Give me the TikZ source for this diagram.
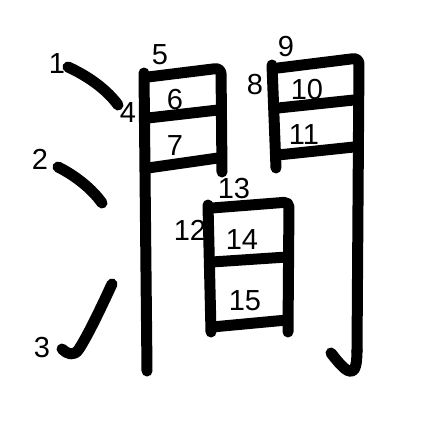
\documentclass[tikz,border=0pt]{standalone}
\usepackage{fontspec}
\setmainfont{Liberation Sans}
\begin{document}
\begin{tikzpicture}[x=1pt,y=-1pt,
  kstroke/.style={line width=11pt,line cap=round,line join=round,black},
  num/.style={font=\fontsize{29}{29}\selectfont,inner sep=0pt,black}]
\useasboundingbox (0,0) rectangle (447,447);
% strokes
\draw[kstroke] (68,67) .. controls (90,77) and (108,91) .. (118,105);
\draw[kstroke] (58,167) .. controls (76,176) and (92,189) .. (102,203);
\draw[kstroke] (112,284) .. controls (100,310) and (88,335) .. (79,349) .. controls (74,357) and (67,354) .. (62,349);
\draw[kstroke] (144,73) -- (147,371);
\draw[kstroke,rounded corners=6pt] (148,77) -- (221,68) -- (222,172);
\draw[kstroke] (148,118) -- (218,110);
\draw[kstroke] (148,168) -- (218,158);
\draw[kstroke] (272,65) -- (276,168);
\draw[kstroke,rounded corners=6pt] (278,68) -- (359,58) -- (357,352);
\draw[kstroke] (357,350) .. controls (357,378) and (350,378) .. (331,353);
\draw[kstroke] (278,108) -- (354,100);
\draw[kstroke] (278,155) -- (354,147);
\draw[kstroke] (208,205) -- (211,332);
\draw[kstroke,rounded corners=5pt] (212,208) -- (289,202) -- (288,332);
\draw[kstroke] (212,262) -- (287,257);
\draw[kstroke] (212,327) -- (287,320);
% labels
\node[num] (n1) at (57,64) {1};
\node[num] (n2) at (40,159) {2};
\node[num] (n3) at (42,348) {3};
\node[num] (n4) at (128,113) {4};
\node[num] (n5) at (160,55) {5};
\node[num] (n6) at (175,100) {6};
\node[num] (n7) at (175,146) {7};
\node[num] (n8) at (255,85) {8};
\node[num] (n9) at (286,47) {9};
\node[num] (n10) at (307,90) {10};
\node[num] (n11) at (304,135) {11};
\node[num] (n12) at (190,230) {12};
\node[num] (n13) at (234,189) {13};
\node[num] (n14) at (242,240) {14};
\node[num] (n15) at (245,301) {15};
\end{tikzpicture}
\end{document}
